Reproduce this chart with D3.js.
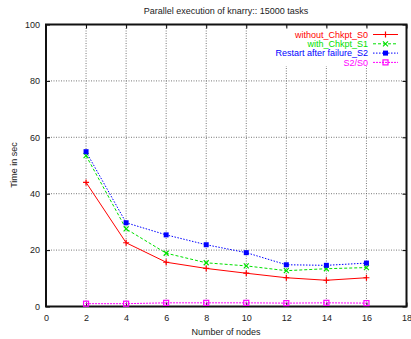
<!DOCTYPE html>
<html>
<head>
<meta charset="utf-8">
<script src="https://cdn.jsdelivr.net/npm/d3@7"></script>
<style>
  body { margin: 0; background: #fff; }
  svg text { font-family: "Liberation Sans", Arial, sans-serif; fill: #222; }
</style>
</head>
<body>
<div id="chart"></div>
<script>
// data
var nodes = [2, 4, 6, 8, 10, 12, 14, 16];
var withoutChkpt = [44, 22.6, 15.7, 13.5, 11.8, 10.2, 9.3, 10.2];
var withChkpt = [53.5, 27.5, 18.9, 15.5, 14.4, 12.7, 13.4, 13.8];
var restartS2 = [54.9, 29.7, 25.4, 21.9, 19.1, 14.8, 14.6, 15.4];
var ratioS2S0 = [1.0, 1.0, 1.3, 1.3, 1.3, 1.2, 1.3, 1.2];
var xTicks = [0, 2, 4, 6, 8, 10, 12, 14, 16, 18];
var yTicks = [0, 20, 40, 60, 80, 100];
var seriesNames = ["without_Chkpt_S0", "with_Chkpt_S1", "Restart after failure_S2", "S2/S0"];

var width = 411, height = 339;
var margin = {left: 46, right: 4.5, top: 24.5, bottom: 32.5};

var svg = d3.select("#chart").append("svg")
  .attr("width", width)
  .attr("height", height);

var x = d3.scaleLinear().domain([0, 18]).range([margin.left, width - margin.right]);
var y = d3.scaleLinear().domain([0, 100]).range([height - margin.bottom, margin.top]);

// grid
var grid = svg.append("g");
grid.selectAll(".vg")
  .data(xTicks.filter(function(d) { return d > 0 && d < 18; }))
  .enter().append("line")
  .attr("x1", function(d) { return x(d); })
  .attr("x2", function(d) { return x(d); })
  .attr("y1", y(0)).attr("y2", y(100))
  .attr("stroke", "#555").attr("stroke-width", 0.8)
  .attr("stroke-dasharray", "1,1.5");
grid.selectAll(".hg")
  .data(yTicks.filter(function(d) { return d > 0 && d < 100; }))
  .enter().append("line")
  .attr("x1", x(0)).attr("x2", x(18))
  .attr("y1", function(d) { return y(d); })
  .attr("y2", function(d) { return y(d); })
  .attr("stroke", "#555").attr("stroke-width", 0.8)
  .attr("stroke-dasharray", "1,1.5");

// legend background
svg.append("rect")
  .attr("x", 278).attr("y", 28).attr("width", 124).attr("height", 38)
  .attr("fill", "#fff");

// axes with inward ticks
var xAxis = d3.axisBottom(x).tickValues(xTicks).tickSize(-4).tickPadding(8);
var yAxis = d3.axisLeft(y).tickValues(yTicks).tickSize(-4).tickPadding(6);

svg.append("g")
  .attr("transform", "translate(0," + y(0) + ")")
  .call(xAxis)
  .call(function(g) { g.select(".domain").remove(); })
  .selectAll("text").style("font-size", "9px");
svg.append("g")
  .attr("transform", "translate(" + x(0) + ",0)")
  .call(yAxis)
  .call(function(g) { g.select(".domain").remove(); })
  .selectAll("text").style("font-size", "9px");
// mirror ticks
svg.append("g")
  .attr("transform", "translate(0," + y(100) + ")")
  .call(d3.axisTop(x).tickValues(xTicks).tickSize(-4).tickFormat(""))
  .call(function(g) { g.select(".domain").remove(); });
svg.append("g")
  .attr("transform", "translate(" + x(18) + ",0)")
  .call(d3.axisRight(y).tickValues(yTicks).tickSize(-4).tickFormat(""))
  .call(function(g) { g.select(".domain").remove(); });

// border
svg.append("rect")
  .attr("x", x(0)).attr("y", y(100))
  .attr("width", x(18) - x(0)).attr("height", y(0) - y(100))
  .attr("fill", "none").attr("stroke", "#111").attr("stroke-width", 2);

// series
var series = [
  {name: seriesNames[0], values: withoutChkpt, color: "#ff0000", dash: null, marker: "plus"},
  {name: seriesNames[1], values: withChkpt, color: "#00e000", dash: "3,2", marker: "cross"},
  {name: seriesNames[2], values: restartS2, color: "#0000ff", dash: "1.5,1.5", marker: "fsquare"},
  {name: seriesNames[3], values: ratioS2S0, color: "#ff00ff", dash: "2,1", marker: "osquare"}
];

var line = d3.line()
  .x(function(d) { return x(d[0]); })
  .y(function(d) { return y(d[1]); });

function drawMarker(g, type, cx, cy, color) {
  if (type === "plus") {
    g.append("path").attr("d", "M" + (cx - 3) + "," + cy + "h6M" + cx + "," + (cy - 3) + "v6")
      .attr("stroke", color).attr("stroke-width", 1.2).attr("fill", "none");
  } else if (type === "cross") {
    g.append("path").attr("d", "M" + (cx - 2.5) + "," + (cy - 2.5) + "l5,5M" + (cx - 2.5) + "," + (cy + 2.5) + "l5,-5")
      .attr("stroke", color).attr("stroke-width", 1.2).attr("fill", "none");
  } else if (type === "fsquare") {
    g.append("rect").attr("x", cx - 2.5).attr("y", cy - 2.5).attr("width", 5).attr("height", 5)
      .attr("fill", color);
  } else {
    g.append("rect").attr("x", cx - 2.5).attr("y", cy - 2.5).attr("width", 5).attr("height", 5)
      .attr("fill", "none").attr("stroke", color).attr("stroke-width", 1.2);
  }
}

series.forEach(function(s) {
  var pts = nodes.map(function(n, i) { return [n, s.values[i]]; });
  var g = svg.append("g");
  g.append("path")
    .attr("d", line(pts))
    .attr("fill", "none")
    .attr("stroke", s.color)
    .attr("stroke-width", 1)
    .attr("stroke-dasharray", s.dash);
  pts.forEach(function(p) { drawMarker(g, s.marker, x(p[0]), y(p[1]), s.color); });
});

// legend
series.forEach(function(s, i) {
  var ly = 34.5 + i * 9.3;
  var g = svg.append("g");
  g.append("text")
    .attr("x", 368).attr("y", ly).attr("dy", "0.35em")
    .attr("text-anchor", "end")
    .style("font-size", "9px")
    .style("fill", s.color)
    .text(s.name);
  g.append("line")
    .attr("x1", 373).attr("x2", 398).attr("y1", ly).attr("y2", ly)
    .attr("stroke", s.color).attr("stroke-width", 1)
    .attr("stroke-dasharray", s.dash);
  drawMarker(g, s.marker, 385.5, ly, s.color);
});

// titles
svg.append("text")
  .attr("x", 226).attr("y", 14)
  .attr("text-anchor", "middle")
  .style("font-size", "9px")
  .text("Parallel execution of knarry:: 15000 tasks");
svg.append("text")
  .attr("x", 226).attr("y", 335)
  .attr("text-anchor", "middle")
  .style("font-size", "9px")
  .text("Number of nodes");
svg.append("text")
  .attr("transform", "translate(17,165) rotate(-90)")
  .attr("text-anchor", "middle")
  .style("font-size", "9px")
  .text("Time in sec");
</script>
</body>
</html>
